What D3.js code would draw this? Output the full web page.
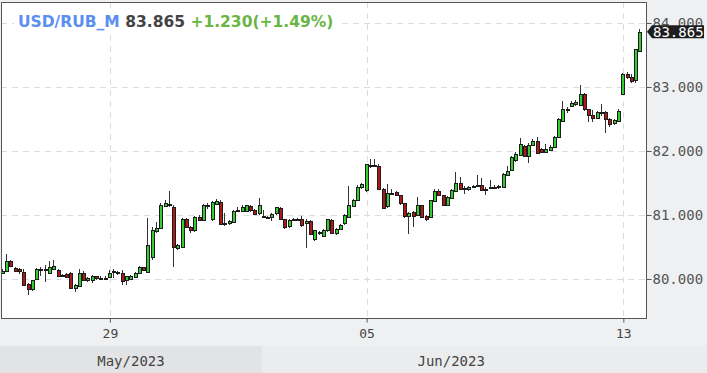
<!DOCTYPE html>
<html>
<head>
<meta charset="utf-8">
<script src="https://cdn.jsdelivr.net/npm/d3@7"></script>
<style>
body { margin: 0; background: #eff0f2; }
svg { display: block; }
</style>
</head>
<body>
<svg id="chart" width="707" height="373"></svg>
<script>
// hourly candles, USD/RUB_M
var open = [80.10,80.13,80.28,80.17,80.15,80.11,79.92,79.84,79.99,80.15,80.15,80.09,80.16,80.14,80.06,80.08,80.10,79.86,79.90,80.09,
  79.98,79.97,80.04,80.01,80.02,80.04,80.10,80.11,80.09,79.97,80.01,80.03,80.09,80.18,80.11,80.34,80.74,80.79,81.14,81.16,
  81.13,80.49,80.50,80.93,80.81,80.76,80.97,80.92,81.15,80.93,81.18,81.21,80.87,80.87,80.90,81.07,81.07,81.06,81.14,81.08,
  81.02,80.98,80.97,80.97,81.02,81.11,80.93,80.82,80.92,80.93,80.93,80.88,80.91,80.62,80.73,80.68,80.76,80.92,80.71,80.78,
  80.88,80.97,81.15,81.23,81.43,81.38,81.78,81.77,81.77,81.41,81.13,81.34,81.36,81.31,81.18,80.98,81.04,81.00,81.15,80.99,
  80.97,81.23,81.38,81.31,81.15,81.27,81.38,81.50,81.42,81.41,81.44,81.45,81.47,81.40,81.42,81.43,81.43,81.44,81.63,81.69,
  81.85,81.94,82.08,81.93,82.10,82.16,82.03,81.99,82.03,82.06,82.22,82.48,82.66,82.70,82.73,82.72,82.89,82.65,82.57,82.52,
  82.60,82.61,82.50,82.44,82.47,82.88,83.20,83.16,83.10,83.57];
var high = [80.15,80.39,80.30,80.18,80.17,80.16,79.93,79.99,80.17,80.19,80.22,80.28,80.29,80.15,80.08,80.09,80.11,79.92,80.16,80.12,
  80.03,80.06,80.05,80.04,80.04,80.14,80.15,80.13,80.14,80.05,80.07,80.11,80.20,80.19,80.96,80.82,80.89,81.18,81.23,81.38,
  81.15,80.55,80.95,80.95,80.83,80.99,81.00,81.17,81.18,81.22,81.25,81.23,81.03,80.92,81.08,81.12,81.15,81.16,81.16,81.09,
  81.27,81.08,80.99,81.03,81.13,81.13,80.94,80.93,80.95,80.95,80.98,80.94,80.92,80.77,80.75,80.78,80.94,80.93,80.79,80.86,
  81.01,81.46,81.25,81.47,81.50,81.80,81.88,81.88,81.79,81.42,81.49,81.40,81.38,81.32,81.19,81.05,81.06,81.28,81.16,81.00,
  81.24,81.41,81.40,81.32,81.29,81.40,81.67,81.59,81.45,81.46,81.47,81.62,81.58,81.44,81.54,81.47,81.47,81.66,81.76,81.92,
  81.98,82.20,82.10,82.12,82.18,82.22,82.04,82.11,82.09,82.24,82.51,82.78,82.68,82.78,82.79,83.03,82.90,82.66,82.64,82.62,
  82.74,82.62,82.51,82.50,82.65,83.22,83.24,83.20,83.60,83.90];
var low = [80.08,80.12,80.18,80.12,80.08,79.90,79.75,79.82,79.98,80.04,79.96,80.08,80.15,80.03,80.03,80.02,79.85,79.79,79.89,79.97,
  79.96,79.93,79.99,79.99,79.98,80.02,80.01,80.06,79.91,79.90,80.00,80.02,80.08,80.12,80.10,80.30,80.72,80.78,81.12,81.13,
  80.18,80.45,80.48,80.79,80.72,80.74,80.90,80.90,81.10,80.90,81.16,80.85,80.83,80.85,80.88,81.05,81.05,81.04,81.05,81.00,
  81.00,80.95,80.94,80.90,81.00,80.92,80.78,80.80,80.90,80.90,80.82,80.48,80.70,80.60,80.69,80.67,80.74,80.70,80.68,80.76,
  80.84,80.96,81.13,81.22,81.41,81.36,81.74,81.75,81.39,81.10,81.11,81.32,81.29,81.15,80.96,80.71,80.81,80.98,80.95,80.90,
  80.95,81.22,81.30,81.14,81.14,81.26,81.37,81.40,81.33,81.38,81.42,81.43,81.37,81.31,81.40,81.42,81.40,81.42,81.61,81.68,
  81.83,81.93,81.91,81.81,82.08,81.96,81.97,81.98,82.01,82.05,82.21,82.47,82.60,82.68,82.70,82.70,82.63,82.45,82.45,82.50,
  82.55,82.28,82.38,82.40,82.46,82.87,83.12,83.07,83.06,83.55];
var close = [80.13,80.28,80.20,80.13,80.12,79.91,79.84,79.98,80.15,80.16,80.14,80.18,80.20,80.04,80.05,80.03,79.86,79.91,80.10,79.98,
  80.01,80.04,80.01,80.02,80.02,80.10,80.12,80.09,79.97,80.04,80.05,80.09,80.18,80.13,80.53,80.76,80.79,81.15,81.19,81.17,
  80.50,80.53,80.93,80.81,80.76,80.97,80.93,81.15,81.13,81.20,81.22,80.87,80.86,80.90,81.07,81.08,81.13,81.15,81.07,81.02,
  81.15,80.96,80.96,81.02,81.12,80.94,80.81,80.92,80.93,80.92,80.84,80.91,80.71,80.76,80.71,80.77,80.93,80.72,80.78,80.84,
  81.00,81.15,81.24,81.44,81.48,81.79,81.77,81.78,81.41,81.12,81.34,81.35,81.31,81.18,80.98,81.03,80.97,81.15,80.97,80.94,
  81.23,81.38,81.31,81.15,81.28,81.39,81.50,81.41,81.41,81.44,81.45,81.47,81.39,81.41,81.43,81.44,81.45,81.64,81.69,81.90,
  81.95,82.11,81.93,82.10,82.16,81.98,81.99,82.03,82.07,82.22,82.50,82.66,82.64,82.75,82.76,82.89,82.65,82.55,82.52,82.61,
  82.61,82.50,82.42,82.48,82.63,83.20,83.16,83.10,83.59,83.865];

var dayLabels = ["29", "05", "13"];
var dayFirstCandle = [25, 85, 145];
var monthLabels = ["May/2023", "Jun/2023"];
var monthFirstCandle = [0, 61];
var yTicks = [80, 81, 82, 83, 84];
var symbol = "USD/RUB_M", lastPrice = "83.865", change = "+1.230(+1.49%)";

var W = 707, H = 373;
var plotL = 1, plotR = 646, plotT = 2, plotB = 318;
var mono = "'DejaVu Sans Mono', monospace";

var svg = d3.select("#chart");

var x = d3.scaleLinear().domain([-0.45, 150.3]).range([plotL, plotR]);
var y = d3.scaleLinear().domain([80, 84]).range([279, 23]);

// backgrounds
svg.append("rect").attr("width", W).attr("height", H).attr("fill", "#eff0f2");
svg.append("rect").attr("x", plotL).attr("y", plotT).attr("width", plotR - plotL).attr("height", plotB - plotT).attr("fill", "#fff");

// month band
var bandTop = 346;
var bandEdges = monthFirstCandle.map(function(i, k) { return k === 0 ? 0 : x(i) - 2; });
svg.selectAll(".band").data(monthLabels).enter().append("rect")
  .attr("x", function(d, k) { return bandEdges[k]; })
  .attr("y", bandTop)
  .attr("width", function(d, k) { return (k + 1 < bandEdges.length ? bandEdges[k + 1] : W) - bandEdges[k]; })
  .attr("height", H - bandTop)
  .attr("fill", function(d, k) { return k === 0 ? "#e2e3e5" : "#ebecee"; });
svg.selectAll(".mlab").data(monthLabels).enter().append("text")
  .attr("x", function(d, k) {
    var a = bandEdges[k], b = k + 1 < bandEdges.length ? bandEdges[k + 1] : x(open.length - 1);
    return (a + b) / 2;
  })
  .attr("y", 366)
  .attr("text-anchor", "middle")
  .attr("font-family", mono).attr("font-size", 14).attr("fill", "#444")
  .text(function(d) { return d; });

// grid
var grid = svg.append("g").attr("stroke", "#dcdcdc").attr("stroke-dasharray", "6,5").attr("shape-rendering", "crispEdges");
grid.selectAll("line.h").data(yTicks).enter().append("line")
  .attr("x1", plotL).attr("x2", plotR)
  .attr("y1", function(d) { return Math.round(y(d)) + 0.5; })
  .attr("y2", function(d) { return Math.round(y(d)) + 0.5; });
grid.selectAll("line.v").data(dayFirstCandle).enter().append("line")
  .attr("y1", plotT).attr("y2", plotB)
  .attr("x1", function(d) { return Math.round(x(d)) + 0.5; })
  .attr("x2", function(d) { return Math.round(x(d)) + 0.5; });

// candles
var idx = d3.range(open.length);
var candles = svg.append("g").attr("shape-rendering", "crispEdges");
candles.selectAll("line").data(idx).enter().append("line")
  .attr("x1", function(i) { return Math.round(x(i) - 2) + 1.5; })
  .attr("x2", function(i) { return Math.round(x(i) - 2) + 1.5; })
  .attr("y1", function(i) { return y(high[i]); })
  .attr("y2", function(i) { return y(low[i]); })
  .attr("stroke", "#333");
candles.selectAll("rect").data(idx).enter().append("rect")
  .attr("x", function(i) { return Math.round(x(i) - 2) + 0.5; })
  .attr("width", 3)
  .attr("y", function(i) { return Math.round(y(Math.max(open[i], close[i]))) + 0.5; })
  .attr("height", function(i) { return Math.max(1, Math.round(Math.abs(y(open[i]) - y(close[i])))); })
  .attr("fill", function(i) { return close[i] >= open[i] ? "#33cc33" : "#b01818"; })
  .attr("stroke", "#1c1c1c");

// frame
svg.append("path")
  .attr("d", "M" + (plotL + 0.5) + "," + plotT + "V" + (plotB + 0.5) + "H" + (plotR + 0.5) + "V" + (plotT + 0.5) + "H" + (plotL + 0.5))
  .attr("fill", "none").attr("stroke", "#555").attr("shape-rendering", "crispEdges");

// right axis
var yAxis = svg.append("g").attr("transform", "translate(" + (plotR + 0.5) + ",0)")
  .call(d3.axisRight(y).tickValues(yTicks).tickSize(5).tickPadding(1).tickFormat(d3.format(".3f")));
yAxis.select(".domain").remove();
yAxis.selectAll("line").attr("stroke", "#555");
yAxis.selectAll("text").attr("font-family", mono).attr("font-size", 14).attr("fill", "#555");

// bottom axis
var xAxis = svg.append("g").attr("transform", "translate(0," + (plotB + 0.5) + ")")
  .call(d3.axisBottom(x).tickValues(dayFirstCandle).tickSize(4).tickPadding(6)
    .tickFormat(function(d, k) { return dayLabels[k]; }));
xAxis.select(".domain").remove();
xAxis.selectAll("line").attr("stroke", "#555");
xAxis.selectAll("text").attr("font-family", mono).attr("font-size", 13).attr("fill", "#444");

// last price tag
var ty = y(close[close.length - 1]);
svg.append("path")
  .attr("d", "M647," + ty + "L652," + (ty - 6.5) + "H704V" + (ty + 6.5) + "H652Z")
  .attr("fill", "#1e1e1e");
svg.append("text").attr("x", 653).attr("y", ty).attr("dy", "0.35em")
  .attr("font-family", mono).attr("font-size", 14).attr("fill", "#fff")
  .text(lastPrice);

// header
svg.append("rect").attr("x", 14).attr("y", 12).attr("width", 324).attr("height", 19).attr("fill", "#fff");
var head = svg.append("text").attr("x", 18).attr("y", 27)
  .attr("font-family", "'DejaVu Sans', sans-serif").attr("font-size", 15.5).attr("font-weight", "bold");
head.append("tspan").attr("fill", "#5b8ef0").text(symbol);
head.append("tspan").attr("fill", "#444").text(" " + lastPrice);
head.append("tspan").attr("fill", "#6ab645").text(" " + change);
</script>
</body>
</html>
